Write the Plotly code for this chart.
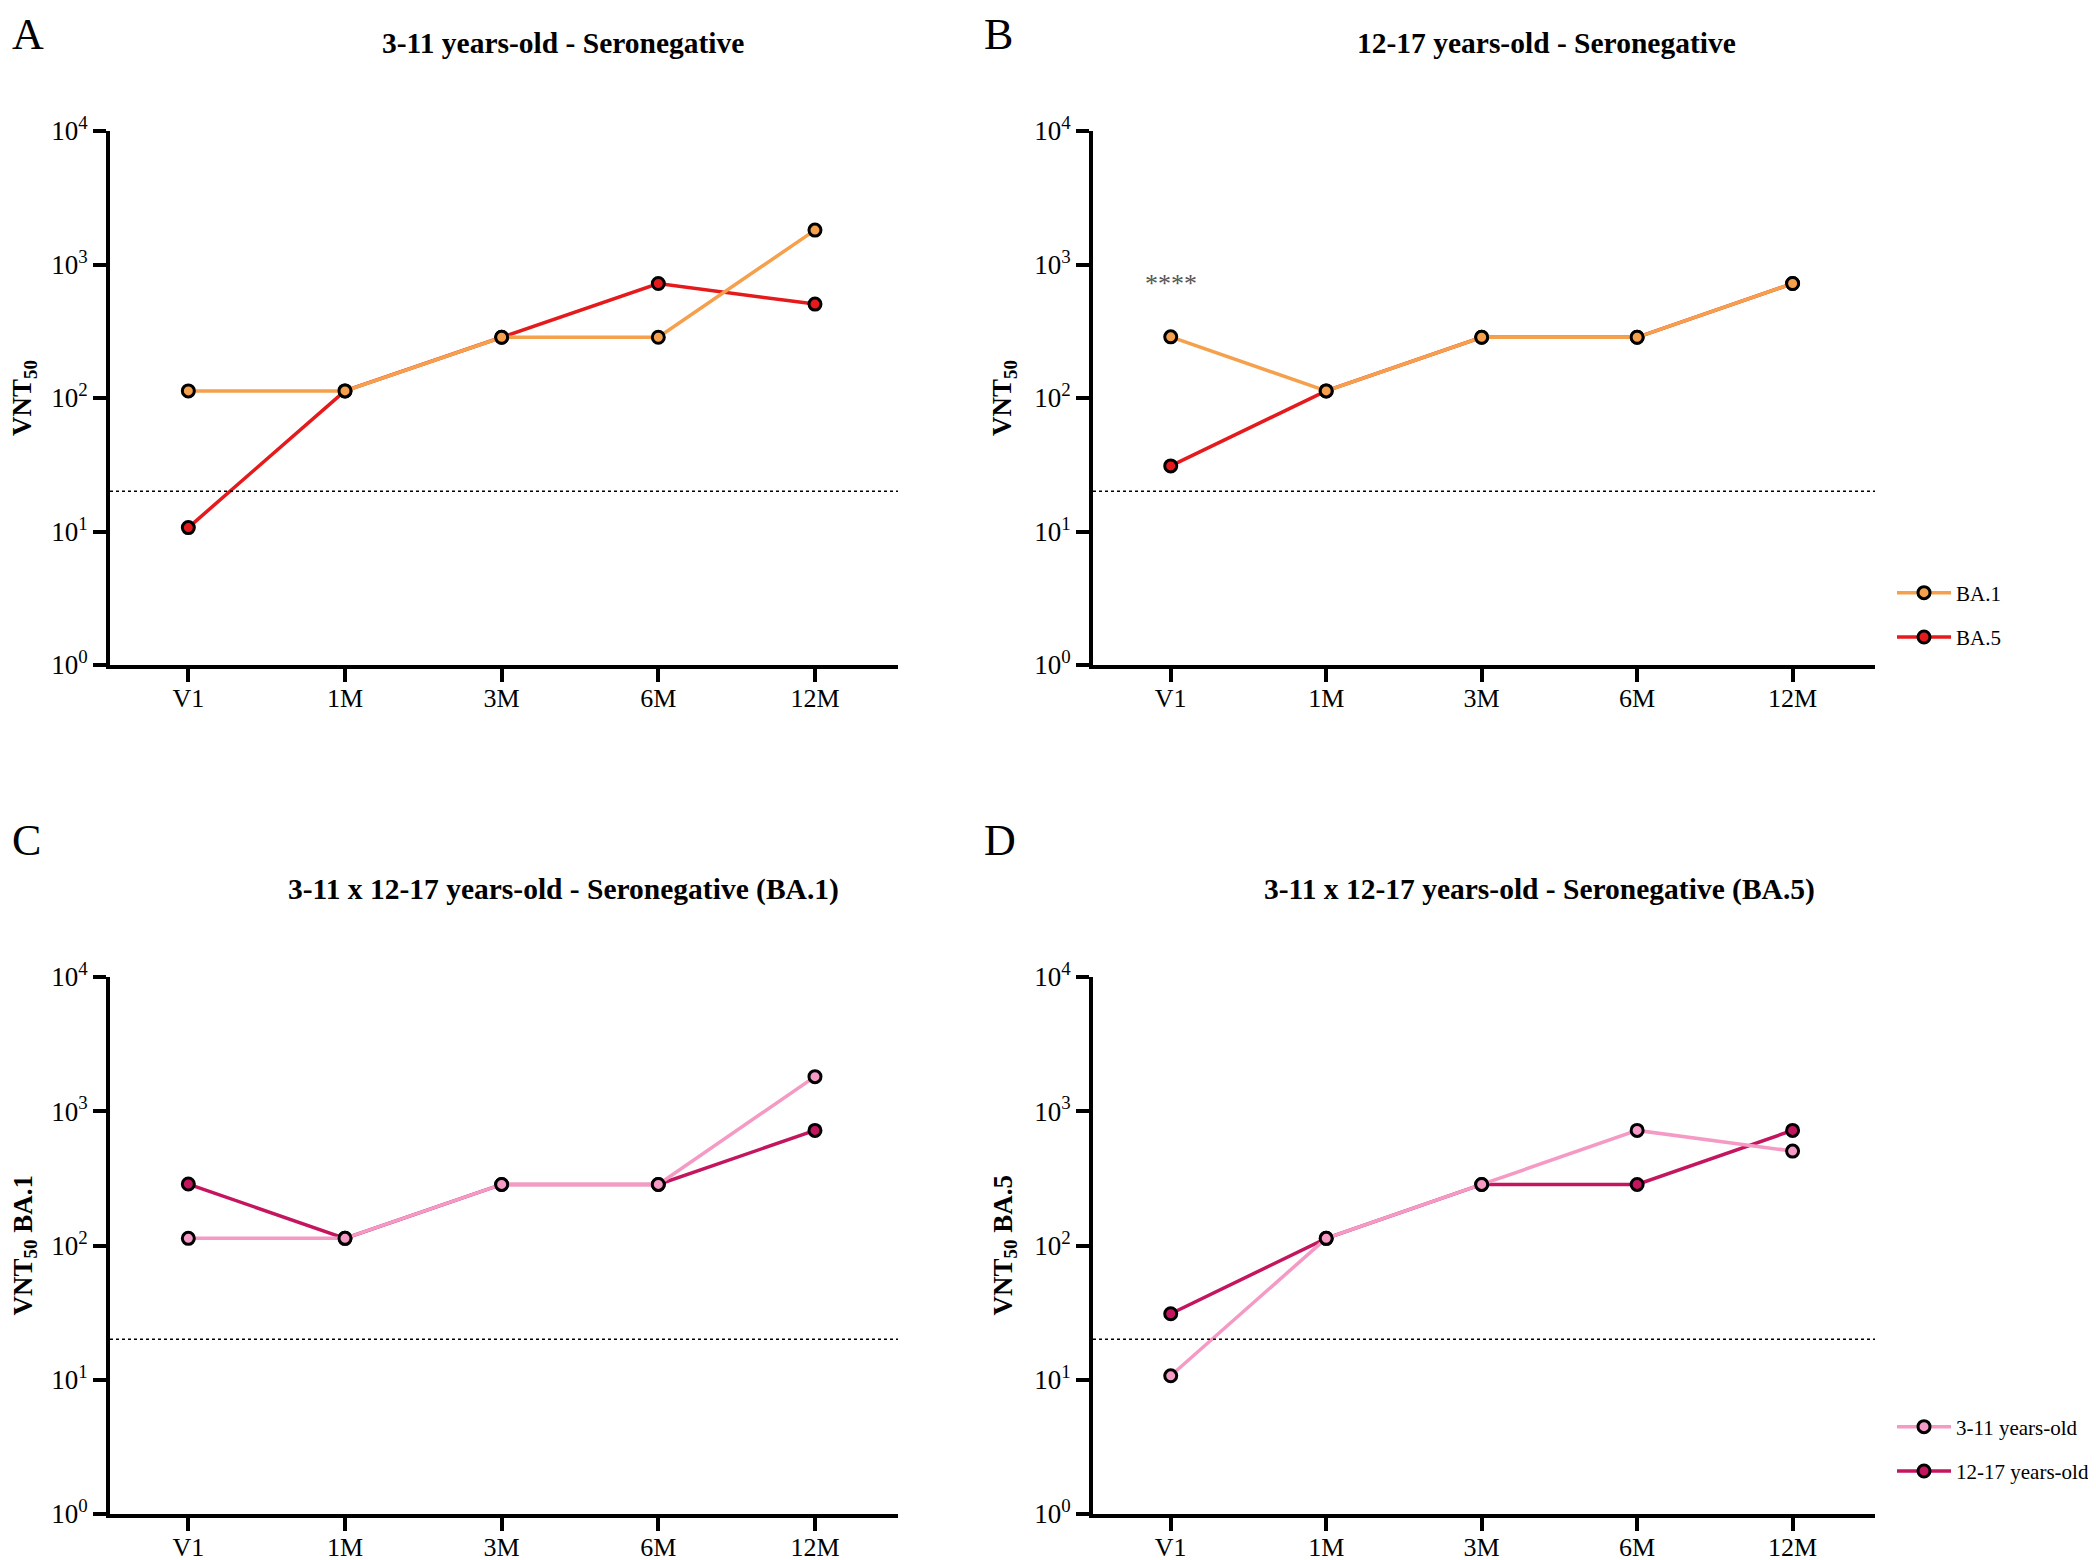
import plotly.graph_objects as go
import numpy as np

visits = ["V1", "1M", "3M", "6M", "12M"]

# panel A: 3-11 years-old
a_ba1 = [113, 113, 285, 285, 1810]
a_ba5 = [10.7, 113, 285, 720, 505]
# panel B: 12-17 years-old
b_ba1 = [287, 113, 285, 285, 720]
b_ba5 = [31, 113, 285, 285, 720]
# panel C: BA.1 by age
c_311 = [113, 113, 285, 285, 1810]
c_1217 = [287, 113, 285, 285, 720]
# panel D: BA.5 by age
d_311 = [10.7, 113, 285, 720, 505]
d_1217 = [31, 113, 285, 285, 720]

lod = 20  # limit of detection (dotted line)
star_y = 720

ORANGE = "#F5A04C"
RED = "#E41A1C"
PINK = "#F49AC4"
MAGENTA = "#C4155F"
FONT = "Liberation Serif"
W, H = 2096, 1560
OFF = 8  # page body margin


def fx(p):
    return (p - OFF) / W


def fy(p):
    return 1 - (p - OFF) / H


fig = go.Figure()


def add_line(y, color, name, xa, ya, legend, showlegend, rank):
    fig.add_trace(go.Scatter(
        x=visits, y=y, mode="lines+markers", name=name,
        line=dict(color=color, width=3.5),
        marker=dict(size=12, color=color, line=dict(color="black", width=3)),
        xaxis=xa, yaxis=ya, legend=legend, showlegend=showlegend,
        legendrank=rank, legendgroup=name,
    ))


# draw order: second series underneath
add_line(a_ba5, RED, "BA.5", "x", "y", "legend", False, 2)
add_line(a_ba1, ORANGE, "BA.1", "x", "y", "legend", False, 1)
add_line(b_ba5, RED, "BA.5", "x2", "y2", "legend", True, 2)
add_line(b_ba1, ORANGE, "BA.1", "x2", "y2", "legend", True, 1)
add_line(c_1217, MAGENTA, "12-17 years-old", "x3", "y3", "legend2", False, 2)
add_line(c_311, PINK, "3-11 years-old", "x3", "y3", "legend2", False, 1)
add_line(d_1217, MAGENTA, "12-17 years-old", "x4", "y4", "legend2", True, 2)
add_line(d_311, PINK, "3-11 years-old", "x4", "y4", "legend2", True, 1)

xdoms = [[fx(110), fx(898)], [fx(1093), fx(1875)]]
ydoms = [[fy(665), fy(131)], [fy(1514), fy(977)]]
ytitle_x = [fx(24), fx(1004), fx(24), fx(1004)]

ytitles = ["VNT<sub>50</sub>", "VNT<sub>50</sub>", "VNT<sub>50</sub> BA.1", "VNT<sub>50</sub> BA.5"]
tickvals = [1, 10, 100, 1000, 10000]
ticktext = ["10<sup>%d</sup>" % i for i in range(5)]

layout = {}
for i in range(4):
    sfx = "" if i == 0 else str(i + 1)
    xd = xdoms[i % 2]
    yd = ydoms[i // 2]
    layout["xaxis" + sfx] = dict(
        domain=xd, anchor="y" + sfx, range=[-0.5, 4.53], automargin=False,
        type="category", showline=True, linewidth=4, linecolor="black",
        ticks="outside", ticklen=13, tickwidth=3.5, tickcolor="black",
        ticklabelstandoff=-6,
        showgrid=False, zeroline=False,
        tickfont=dict(family=FONT, size=26, color="black"),
    )
    layout["yaxis" + sfx] = dict(
        domain=yd, anchor="x" + sfx, type="log", range=[0, 4], automargin=False,
        showline=True, linewidth=4, linecolor="black",
        ticks="outside", ticklen=13, tickwidth=3.5, tickcolor="black",
        tickvals=tickvals, ticktext=ticktext,
        showgrid=False, zeroline=False,
        tickfont=dict(family=FONT, size=27, color="black"),
    )
    fig.add_shape(type="line", xref="x%s domain" % sfx, yref="y" + sfx,
                  x0=0, x1=1, y0=lod, y1=lod,
                  line=dict(color="black", width=1.5, dash="dot"))
    fig.add_annotation(text="<b>%s</b>" % ytitles[i], x=ytitle_x[i],
                       y=(yd[0] + yd[1]) / 2, xref="paper", yref="paper",
                       textangle=-90, showarrow=False,
                       xanchor="center", yanchor="middle",
                       font=dict(family=FONT, size=27, color="black"))

fig.update_layout(**layout)

titles = ["3-11 years-old - Seronegative", "12-17 years-old - Seronegative",
          "3-11 x 12-17 years-old - Seronegative (BA.1)",
          "3-11 x 12-17 years-old - Seronegative (BA.5)"]
title_x = [fx(563), fx(1546), fx(563), fx(1539)]
title_y = [fy(43), fy(43), fy(889), fy(889)]
for t, tx, ty in zip(titles, title_x, title_y):
    fig.add_annotation(text="<b>%s</b>" % t, x=tx, y=ty, xref="paper", yref="paper",
                       showarrow=False, xanchor="center", yanchor="middle",
                       font=dict(family=FONT, size=29.5, color="black"))

letters = ["A", "B", "C", "D"]
letter_x = [fx(10), fx(982), fx(10), fx(982)]
letter_y = [1, 1, fy(840), fy(840)]
letter_anchor = ["top", "top", "middle", "middle"]
for t, lx, ly, ya in zip(letters, letter_x, letter_y, letter_anchor):
    fig.add_annotation(text=t, x=lx, y=ly, xref="paper", yref="paper",
                       showarrow=False, xanchor="left", yanchor=ya,
                       font=dict(family=FONT, size=44, color="black"))

fig.add_annotation(text="****", x="V1", y=np.log10(star_y), xref="x2", yref="y2",
                   showarrow=False, font=dict(family=FONT, size=26, color="#555555"))

legend_style = dict(font=dict(family=FONT, size=21, color="black"),
                    bgcolor="rgba(0,0,0,0)", itemwidth=54, tracegroupgap=14,
                    xanchor="left", yanchor="middle", xref="paper", yref="paper")
fig.update_layout(
    width=W, height=H,
    margin=dict(l=0, r=0, t=0, b=0),
    plot_bgcolor="white", paper_bgcolor="white",
    legend=dict(x=fx(1892), y=fy(615), **legend_style),
    legend2=dict(x=fx(1892), y=fy(1449), **legend_style),
)

fig.write_html("out.html")
